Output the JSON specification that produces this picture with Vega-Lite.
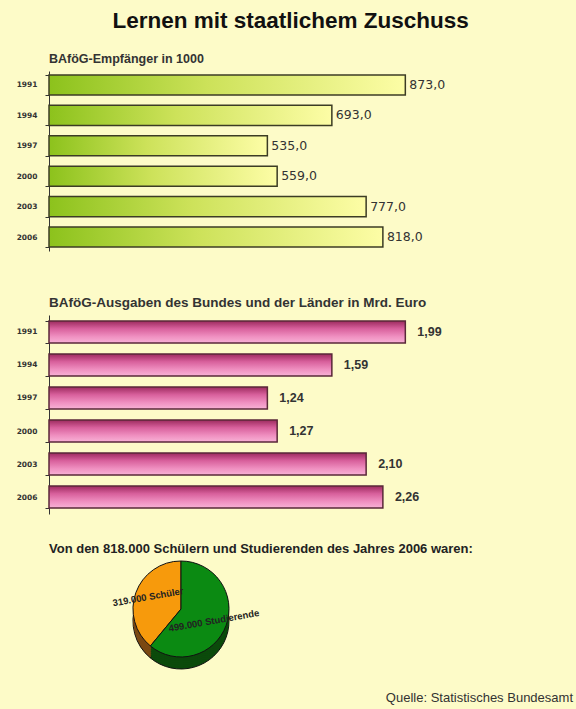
{
  "$schema": "https://vega.github.io/schema/vega-lite/v6.json",
  "background": "#fdfbc8",
  "padding": {"left": 16, "top": 10, "right": 4, "bottom": 4},
  "config": {
    "font": "Liberation Sans",
    "view": {"stroke": null},
    "locale": {"number": {"decimal": ",", "thousands": ".", "grouping": [3], "currency": ["", " €"]}},
    "title": {"font": "Liberation Sans"}
  },
  "title": {"text": "Lernen mit staatlichem Zuschuss", "fontSize": 22.5, "fontWeight": "bold", "color": "#111111", "anchor": "middle", "offset": 20, "dx": -4},
  "datasets": {
    "bafoeg": [
      {"jahr": "1991", "empfaenger": 873.0, "ausgaben": 1.99},
      {"jahr": "1994", "empfaenger": 693.0, "ausgaben": 1.59},
      {"jahr": "1997", "empfaenger": 535.0, "ausgaben": 1.24},
      {"jahr": "2000", "empfaenger": 559.0, "ausgaben": 1.27},
      {"jahr": "2003", "empfaenger": 777.0, "ausgaben": 2.10},
      {"jahr": "2006", "empfaenger": 818.0, "ausgaben": 2.26}
    ],
    "anteile": [
      {"gruppe": "Schüler", "anzahl": 319000, "label": "319.000 Schüler"},
      {"gruppe": "Studierende", "anzahl": 499000, "label": "499.000 Studierende"}
    ],
    "quelle": [{"text": "Quelle: Statistisches Bundesamt"}]
  },
  "spacing": 29,
  "vconcat": [
    {
      "spacing": 44,
      "vconcat": [
        {
          "width": 400,
          "height": 180,
          "data": {"name": "bafoeg"},
          "title": {"text": "BAföG-Empfänger  in 1000", "fontSize": 12.5, "fontWeight": "bold", "color": "#333333", "anchor": "start", "frame": "group", "offset": 2},
          "encoding": {
            "y": {"field": "jahr", "type": "nominal", "sort": null, "title": null,
                  "scale": {"paddingInner": 0.34, "paddingOuter": 0.13},
                  "axis": {"labelFont": "DejaVu Sans", "labelFontSize": 7.5, "labelFontWeight": "bold", "labelColor": "#333333", "labelPadding": 8,
                           "tickBand": "extent", "tickSize": 4, "tickColor": "#333333", "domainColor": "#333333"}},
            "x": {"field": "empfaenger", "type": "quantitative", "scale": {"domain": [0, 980]}, "axis": null}
          },
          "layer": [
            {"mark": {"type": "bar", "stroke": "#3c3c24", "strokeWidth": 1.5,
                      "color": {"gradient": "linear", "x1": 0, "y1": 0, "x2": 1, "y2": 0,
                                "stops": [{"offset": 0, "color": "#8cc21c"}, {"offset": 0.45, "color": "#cde25a"}, {"offset": 1, "color": "#fdfda6"}]}}},
            {"mark": {"type": "text", "align": "left", "dx": 4, "font": "DejaVu Sans", "fontSize": 12.5, "color": "#333333"},
             "encoding": {"text": {"field": "empfaenger", "type": "quantitative", "format": ".1f"}}}
          ]
        },
        {
          "width": 400,
          "height": 199,
          "data": {"name": "bafoeg"},
          "title": {"text": "BAföG-Ausgaben  des Bundes und der Länder in Mrd. Euro", "fontSize": 13.5, "fontWeight": "bold", "color": "#333333", "anchor": "start", "frame": "group", "offset": 2},
          "encoding": {
            "y": {"field": "jahr", "type": "nominal", "sort": null, "title": null,
                  "scale": {"paddingInner": 0.33, "paddingOuter": 0.18},
                  "axis": {"labelFont": "DejaVu Sans", "labelFontSize": 7.5, "labelFontWeight": "bold", "labelColor": "#333333", "labelPadding": 8,
                           "tickBand": "extent", "tickSize": 4, "tickColor": "#333333", "domainColor": "#333333"}},
            "x": {"field": "empfaenger", "type": "quantitative", "scale": {"domain": [0, 980]}, "axis": null}
          },
          "layer": [
            {"mark": {"type": "bar", "stroke": "#5a2838", "strokeWidth": 1.5,
                      "color": {"gradient": "linear", "x1": 0, "y1": 0, "x2": 0, "y2": 1,
                                "stops": [{"offset": 0, "color": "#9c2a5e"}, {"offset": 0.35, "color": "#d8609c"}, {"offset": 0.7, "color": "#ef8fc0"}, {"offset": 1, "color": "#f8b2d6"}]}}},
            {"mark": {"type": "text", "align": "left", "dx": 12, "fontSize": 12.5, "fontWeight": "bold", "color": "#333333"},
             "encoding": {"text": {"field": "ausgaben", "type": "quantitative", "format": ".2f"}}}
          ]
        }
      ]
    },
    {
      "spacing": 21,
      "vconcat": [
        {
          "width": 264,
          "height": 102,
          "data": {"name": "anteile"},
          "title": {"text": "Von den 818.000  Schülern und Studierenden des Jahres 2006 waren:", "fontSize": 13, "fontWeight": "bold", "color": "#222222", "anchor": "start", "frame": "group", "offset": 2},
          "encoding": {
            "theta": {"field": "anzahl", "type": "quantitative", "stack": true},
            "order": {"field": "gruppe", "sort": "descending"}
          },
          "layer": [
            {"mark": {"type": "arc", "radius": 48, "yOffset": 12, "stroke": "#111111", "strokeWidth": 1},
             "encoding": {"color": {"field": "gruppe", "type": "nominal", "legend": null, "scale": {"domain": ["Schüler", "Studierende"], "range": ["#7a4812", "#0b4a0b"]}}}},
            {"mark": {"type": "arc", "radius": 48, "yOffset": 10},
             "encoding": {"color": {"field": "gruppe", "type": "nominal", "legend": null, "scale": {"domain": ["Schüler", "Studierende"], "range": ["#7a4812", "#0b4a0b"]}}}},
            {"mark": {"type": "arc", "radius": 48, "yOffset": 8},
             "encoding": {"color": {"field": "gruppe", "type": "nominal", "legend": null, "scale": {"domain": ["Schüler", "Studierende"], "range": ["#7a4812", "#0b4a0b"]}}}},
            {"mark": {"type": "arc", "radius": 48, "yOffset": 6},
             "encoding": {"color": {"field": "gruppe", "type": "nominal", "legend": null, "scale": {"domain": ["Schüler", "Studierende"], "range": ["#7a4812", "#0b4a0b"]}}}},
            {"mark": {"type": "arc", "radius": 48, "yOffset": 4},
             "encoding": {"color": {"field": "gruppe", "type": "nominal", "legend": null, "scale": {"domain": ["Schüler", "Studierende"], "range": ["#7a4812", "#0b4a0b"]}}}},
            {"mark": {"type": "arc", "radius": 48, "yOffset": 2},
             "encoding": {"color": {"field": "gruppe", "type": "nominal", "legend": null, "scale": {"domain": ["Schüler", "Studierende"], "range": ["#7a4812", "#0b4a0b"]}}}},
            {"mark": {"type": "arc", "radius": 48, "stroke": "#111111", "strokeWidth": 1},
             "encoding": {"fill": {"field": "gruppe", "type": "nominal", "legend": null, "scale": {"domain": ["Schüler", "Studierende"], "range": ["#f79a0c", "#0b8a12"]}}}},
            {"mark": {"type": "text", "radius": 35, "fontSize": 9.5, "fontWeight": "bold", "color": "#222222", "angle": 350},
             "encoding": {"text": {"field": "label", "type": "nominal"}}}
          ]
        },
        {
          "width": 524,
          "height": 10,
          "data": {"name": "quelle"},
          "mark": {"type": "text", "align": "right", "fontSize": 13, "color": "#333333"},
          "encoding": {"text": {"field": "text", "type": "nominal"}, "x": {"value": "width"}}
        }
      ]
    }
  ]
}
